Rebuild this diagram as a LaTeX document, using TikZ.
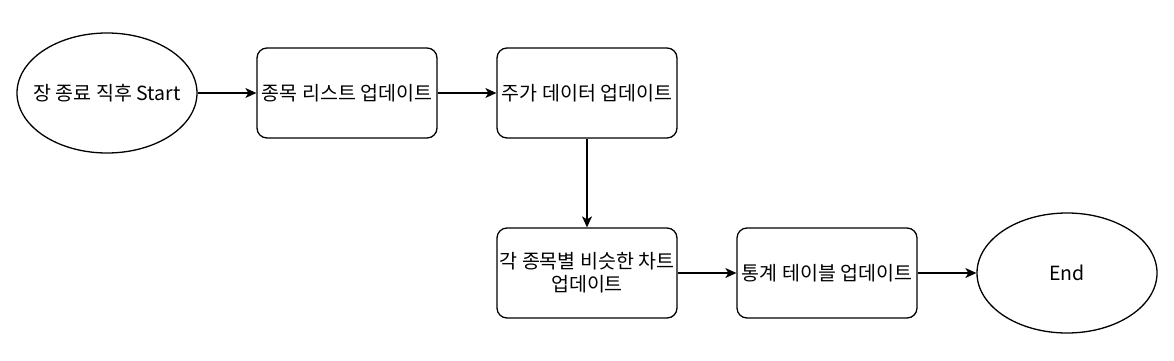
\documentclass[tikz,border=0pt]{standalone}
\usepackage{fontspec}
\setmainfont{Noto Sans CJK KR}
\usetikzlibrary{shapes.geometric,arrows.meta}
\tikzset{
  flow terminal/.style={ellipse,draw=black,line width=1.3pt,minimum width=180pt,minimum height=120pt,inner xsep=-12pt,inner ysep=0pt},
  flow step/.style={rectangle,rounded corners=10pt,draw=black,line width=1.3pt,minimum width=180pt,minimum height=90pt,inner sep=0pt,align=center},
  flow arrow/.style={-{Stealth[length=11pt,width=10pt,inset=3pt]},line width=1.3pt,draw=black}
}

\begin{document}
\begin{tikzpicture}[x=1pt,y=-1pt,font=\fontsize{19.5}{23}\selectfont]
    \useasboundingbox (0,0) rectangle (1174,361);
    \node[flow terminal] (start) at (107,93) {장 종료 직후 Start};
    \node[flow step] (list) at (347,93) {종목 리스트 업데이트};
    \node[flow step] (price) at (587,93) {주가 데이터 업데이트};
    \node[flow step] (chart) at (587,273) {각 종목별 비슷한 차트\\업데이트};
    \node[flow step] (stats) at (827,273) {통계 테이블 업데이트};
    \node[flow terminal] (finish) at (1067,273) {End};
    \draw[flow arrow] (start)--(list);
    \draw[flow arrow] (list)--(price);
    \draw[flow arrow] (price)--(chart);
    \draw[flow arrow] (chart)--(stats);
    \draw[flow arrow] (stats)--(finish);
  \end{tikzpicture}
\end{document}
